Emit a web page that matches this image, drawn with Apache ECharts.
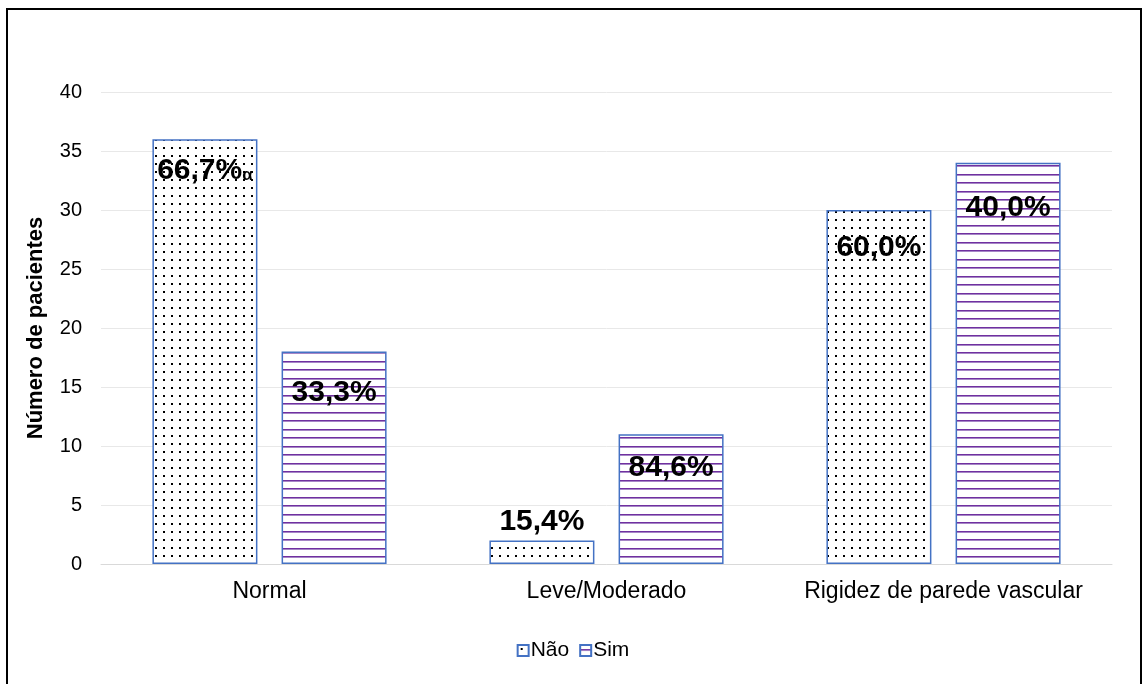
<!DOCTYPE html>
<html>
<head>
<meta charset="utf-8">
<script src="https://cdn.jsdelivr.net/npm/echarts@6/dist/echarts.min.js"></script>
<style>
  html, body { margin: 0; padding: 0; background: #fff; }
  #chart { width: 1146px; height: 684px; }
</style>
</head>
<body>
<div id="chart"></div>
<script>
// Patient counts by arterial stiffness class
const categories = ['Normal', 'Leve/Moderado', 'Rigidez de parede vascular'];
const seriesNames = ['Não', 'Sim'];
const naoValues = [36, 2, 30];
const simValues = [18, 11, 34];
const naoLabels = ['66,7%', '15,4%', '60,0%'];
const simLabels = ['33,3%', '84,6%', '40,0%'];
const yTicks = [0, 5, 10, 15, 20, 25, 30, 35, 40];

// Label vertical placement inside each bar (px from bar top); negative = above bar
const naoLabelOffsets = [32, -19, 38];
const simLabelOffsets = [41, 34, 45];

const FONT = 'Liberation Sans, Arial, sans-serif';

function dotPattern() {
  const c = document.createElement('canvas');
  c.width = 8; c.height = 8;
  const g = c.getContext('2d');
  g.fillStyle = '#ffffff';
  g.fillRect(0, 0, 8, 8);
  g.fillStyle = '#000000';
  g.fillRect(3, 3, 2, 2);
  return c;
}
function linePattern() {
  // two stripes per 17px tile -> 8.5px stripe pitch
  const c = document.createElement('canvas');
  c.width = 8; c.height = 17;
  const g = c.getContext('2d');
  g.fillStyle = '#ffffff';
  g.fillRect(0, 0, 8, 17);
  g.fillStyle = '#7030A0';
  g.fillRect(0, 4, 8, 1);
  g.fillRect(0, 12, 8, 1);
  g.fillStyle = '#A686C6';
  g.fillRect(0, 5, 8, 1);
  g.fillRect(0, 13, 8, 1);
  return c;
}

const naoFill = { image: dotPattern(), repeat: 'repeat' };
const simFill = { image: linePattern(), repeat: 'repeat' };

function buildData(values, labels, offsets, withMark) {
  return values.map((v, i) => ({
    value: v,
    label: {
      show: true,
      position: ['50%', offsets[i]],
      align: 'center',
      verticalAlign: 'middle',
      formatter: (withMark && i === 0) ? '{m|' + labels[i] + '}{a|α}' : '{m|' + labels[i] + '}'
    }
  }));
}

const rich = {
  m: { fontFamily: FONT, fontSize: 30, fontWeight: 'bold', color: '#000' },
  a: { fontFamily: FONT, fontSize: 17, fontWeight: 'bold', color: '#000', padding: [9, 0, 0, 0] }
};

const chart = echarts.init(document.getElementById('chart'), null, { renderer: 'canvas' });
chart.setOption({
  animation: false,
  backgroundColor: '#ffffff',
  graphic: [{
    type: 'rect',
    shape: { x: 7, y: 9, width: 1134, height: 690 },
    style: { fill: 'none', stroke: '#000', lineWidth: 2 },
    silent: true
  }],
  grid: { left: 101, right: 34, top: 92, bottom: 120, containLabel: false },
  legend: {
    bottom: 18,
    left: 'center',
    itemWidth: 11,
    itemHeight: 11,
    itemGap: 10,
    icon: 'rect',
    textStyle: { fontFamily: FONT, fontSize: 21, color: '#000', padding: [0, 0, 0, -3] },
    data: seriesNames
  },
  xAxis: {
    type: 'category',
    data: categories,
    axisLine: { show: true, lineStyle: { color: '#d9d9d9', width: 1 } },
    axisTick: { show: false },
    axisLabel: { fontFamily: FONT, fontSize: 23, color: '#000', margin: 16, interval: 0, hideOverlap: false }
  },
  yAxis: {
    type: 'value',
    min: 0, max: 40, interval: 5,
    name: 'Número de pacientes',
    nameLocation: 'middle',
    nameGap: 54,
    nameTextStyle: { fontFamily: FONT, fontSize: 22, fontWeight: 'bold', color: '#000' },
    axisLine: { show: false },
    axisTick: { show: false },
    splitLine: { lineStyle: { color: '#e8e8e8', width: 1 } },
    axisLabel: {
      fontFamily: FONT, fontSize: 20, color: '#000', margin: 19,
      formatter: v => yTicks.includes(v) ? String(v) : ''
    }
  },
  series: [
    {
      name: seriesNames[0],
      type: 'bar',
      barWidth: 105,
      barGap: '23%',
      itemStyle: { color: naoFill, borderColor: '#4472C4', borderWidth: 1.5 },
      label: { rich: rich },
      data: buildData(naoValues, naoLabels, naoLabelOffsets, true)
    },
    {
      name: seriesNames[1],
      type: 'bar',
      barWidth: 105,
      barGap: '23%',
      itemStyle: { color: simFill, borderColor: '#4472C4', borderWidth: 1.5 },
      label: { rich: rich },
      data: buildData(simValues, simLabels, simLabelOffsets, false)
    }
  ]
});
</script>
</body>
</html>
